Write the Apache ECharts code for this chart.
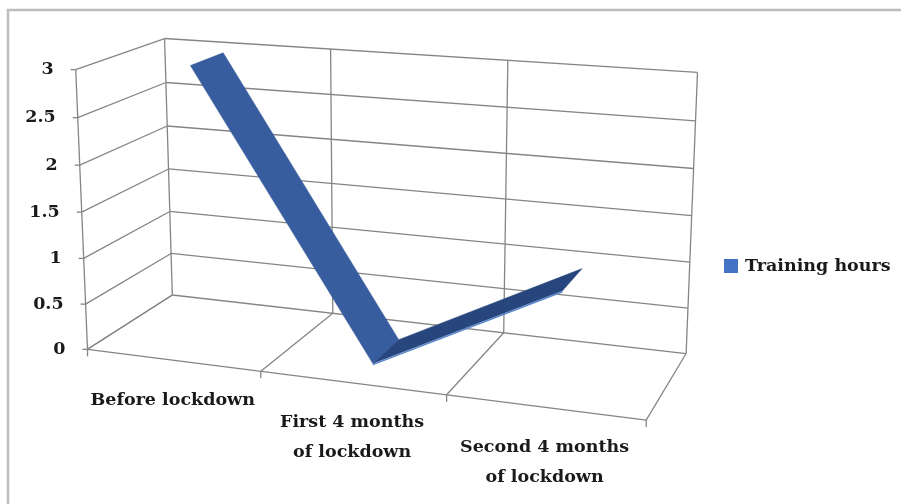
<!DOCTYPE html>
<html><head><meta charset="utf-8">
<script src="https://cdn.jsdelivr.net/npm/echarts@6/dist/echarts.min.js"></script>
<style>html,body{margin:0;padding:0;background:#fff}#c{width:901px;height:504px}</style>
</head><body><div id="c"></div>
<script>
// ---- data ----
const categories = ['Before lockdown', 'First 4 months\nof lockdown', 'Second 4 months\nof lockdown'];
const seriesName = 'Training hours';
const trainingHours = [3, 0, 1];
const yTicks = [0, 0.5, 1, 1.5, 2, 2.5, 3];
const yTickLabels = ['0', '0.5', '1', '1.5', '2', '2.5', '3'];
const yMin = 0, yMax = 3, yInterval = 0.5;

// ---- 3D frame calibration (X: category fraction, Y: value fraction, Z: depth 0 front..1 back -> pixel) ----
const frameAnchors = [
  [0,0,0, 88,350],[1/3,0,0,262,375],[2/3,0,0,446,393],[1,0,0,646,419],
  [0,0,1,172,295],[1/3,0,1,333,313],[2/3,0,1,502,333],[1,0,1,687,354],
  [0,1,1,165,39],[1/3,1,1,330,50],[2/3,1,1,508,61],[1,1,1,698,72],
  [0,1,0,75,70],[0,0.5,0,81.5,210],[0,0.5,1,169,167]
];
const ribbonDepth = [0.3, 0.7];

const FONT = 'DejaVu Serif';
const FONT_SIZE = 17.5;
const GRID_COLOR = '#858585';
const TEXT_COLOR = '#1a1a1a';

function fitCamera(pts) {
  const s = 100, A = [], b = [];
  pts.forEach(([X, Y, Z, x, y]) => {
    x /= s; y /= s;
    A.push([X, Y, Z, 1, 0, 0, 0, 0, -x * X, -x * Y, -x * Z]); b.push(x);
    A.push([0, 0, 0, 0, X, Y, Z, 1, -y * X, -y * Y, -y * Z]); b.push(y);
  });
  const n = 11, M = [];
  for (let i = 0; i < n; i++) {
    M.push(new Array(n + 1).fill(0));
    for (let j = 0; j < n; j++) for (let k = 0; k < A.length; k++) M[i][j] += A[k][i] * A[k][j];
    for (let k = 0; k < A.length; k++) M[i][n] += A[k][i] * b[k];
  }
  for (let c = 0; c < n; c++) {
    let piv = c;
    for (let r = c + 1; r < n; r++) if (Math.abs(M[r][c]) > Math.abs(M[piv][c])) piv = r;
    [M[c], M[piv]] = [M[piv], M[c]];
    for (let r = 0; r < n; r++) {
      if (r === c) continue;
      const f = M[r][c] / M[c][c];
      for (let k = c; k <= n; k++) M[r][k] -= f * M[c][k];
    }
  }
  return M.map((row, i) => row[n] / row[i]);
}
const P = fitCamera(frameAnchors);
function proj(X, Y, Z) {
  const w = P[8] * X + P[9] * Y + P[10] * Z + 1;
  return [100 * (P[0] * X + P[1] * Y + P[2] * Z + P[3]) / w,
          100 * (P[4] * X + P[5] * Y + P[6] * Z + P[7]) / w];
}
// grid pixel -> normalized frame coords
function toFrame(cs, pt) {
  return [(pt[0] - cs.x) / cs.width, (cs.y + cs.height - pt[1]) / cs.height];
}
function seg(a, b, extra) {
  return Object.assign({ type: 'line', shape: { x1: a[0], y1: a[1], x2: b[0], y2: b[1] },
    style: { stroke: GRID_COLOR, lineWidth: 1.3 }, silent: true }, extra || {});
}

function renderFrame(params, api) {
  const cs = params.coordSys;
  const children = [];
  const nCat = categories.length;
  yTicks.forEach((v, k) => {
    const Y = toFrame(cs, api.coord([0, v]))[1];
    const f = proj(0, Y, 0), bl = proj(0, Y, 1), br = proj(1, Y, 1);
    children.push(seg(f, bl));
    children.push(seg(bl, br));
    children.push(seg([f[0] - 5, f[1]], f));
    children.push({ type: 'text', silent: true, style: {
      x: f[0] - 22, y: f[1], text: yTickLabels[k], align: 'right', verticalAlign: 'middle',
      fontFamily: FONT, fontWeight: 'bold', fontSize: FONT_SIZE, fill: TEXT_COLOR } });
  });
  children.push(seg(proj(0, 0, 0), proj(0, 1, 0)));
  for (let i = 0; i <= nCat; i++) {
    const X = i / nCat;
    const fb = proj(X, 0, 0);
    children.push(seg(proj(X, 0, 1), proj(X, 1, 1)));
    children.push(seg(fb, proj(X, 0, 1)));
    children.push(seg(fb, [fb[0], fb[1] + 7]));
  }
  children.push(seg(proj(0, 0, 0), proj(1, 0, 0)));
  categories.forEach((c, i) => {
    const X = toFrame(cs, api.coord([i, yMin]))[0];
    const p = proj(X, 0, 0);
    children.push({ type: 'text', silent: true, style: {
      x: p[0], y: p[1] + 25, text: c, align: 'center', verticalAlign: 'top', lineHeight: 30,
      fontFamily: FONT, fontWeight: 'bold', fontSize: FONT_SIZE, fill: TEXT_COLOR } });
  });
  return { type: 'group', children };
}

function renderRibbon(params, api) {
  const i = params.dataIndexInside;
  if (i >= params.dataInsideLength - 1) return null;
  const cs = params.coordSys;
  const a = toFrame(cs, api.coord([api.value(0), api.value(1)]));
  const b = toFrame(cs, api.coord([api.value(0, i + 1), api.value(1, i + 1)]));
  const [zf, zb] = ribbonDepth;
  const pts = [proj(a[0], a[1], zf), proj(b[0], b[1], zf), proj(b[0], b[1], zb), proj(a[0], a[1], zb)];
  const rising = api.value(1, i + 1) > api.value(1);
  const col = rising ? '#26467d' : '#385d9e';
  const children = [{ type: 'polygon', shape: { points: pts },
    style: { fill: col, stroke: col, lineWidth: 0.5 } }];
  if (rising) {
    children.push({ type: 'line', shape: { x1: pts[0][0], y1: pts[0][1] + 1, x2: pts[1][0], y2: pts[1][1] + 1 },
      style: { stroke: '#5a88cc', lineWidth: 1.5 } });
  }
  return { type: 'group', children };
}

const chart = echarts.init(document.getElementById('c'), null, { renderer: 'canvas' });
chart.setOption({
  animation: false,
  backgroundColor: '#fff',
  graphic: [{ type: 'rect', z: -10, silent: true, shape: { x: 8, y: 10, width: 1000, height: 1000 },
    style: { fill: 'none', stroke: '#bdbdbd', lineWidth: 2.5 } }],
  grid: { left: 100, top: 100, width: 300, height: 300, show: false },
  xAxis: { type: 'category', data: categories, show: false },
  yAxis: { type: 'value', min: yMin, max: yMax, interval: yInterval, show: false },
  legend: {
    data: [{ name: seriesName, icon: 'rect' }], left: 724, top: 257, padding: 0,
    itemWidth: 14, itemHeight: 14, selectedMode: false,
    textStyle: { fontFamily: FONT, fontWeight: 'bold', fontSize: FONT_SIZE, color: TEXT_COLOR, padding: [0, 0, 0, 2] }
  },
  series: [
    { type: 'custom', name: 'frame', silent: true, z: 1, renderItem: renderFrame,
      data: [[0, yMin]], encode: { x: 0, y: 1 }, clip: false },
    { type: 'custom', name: seriesName, z: 5, renderItem: renderRibbon,
      itemStyle: { color: '#4472c4' }, clip: false,
      data: trainingHours.map((v, i) => [i, v]), encode: { x: 0, y: 1 } }
  ]
});
</script></body></html>
